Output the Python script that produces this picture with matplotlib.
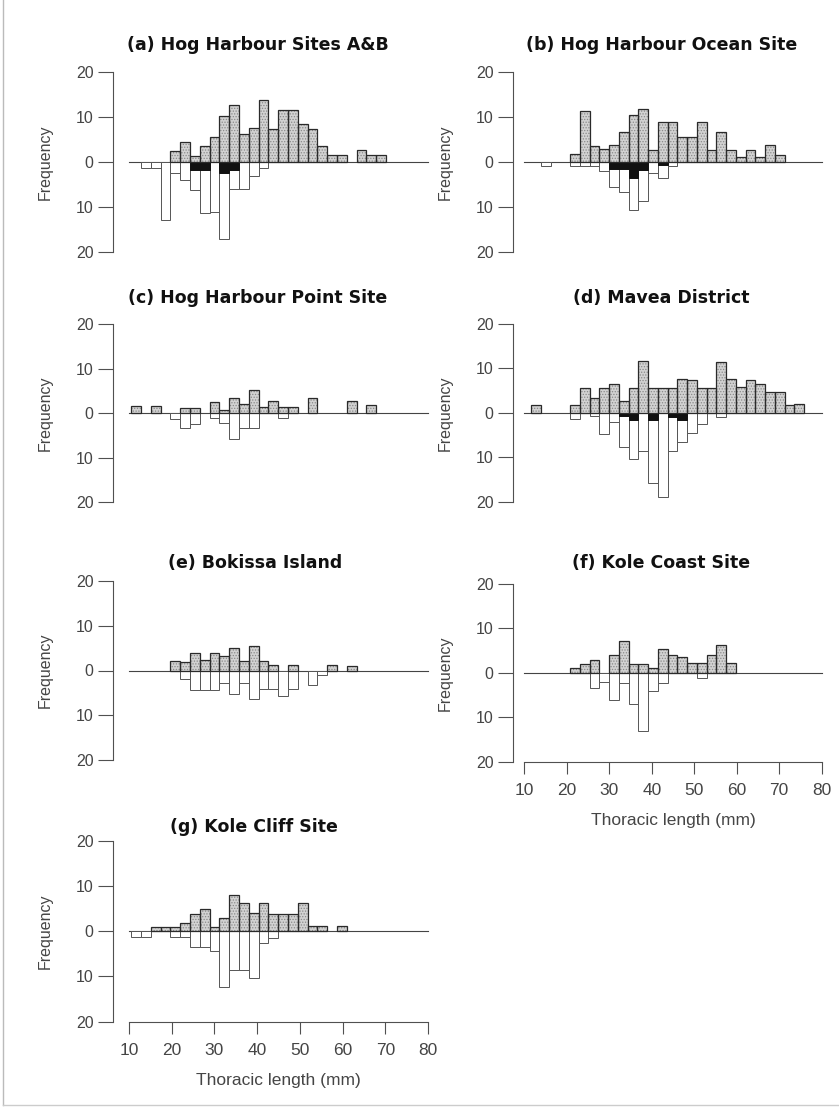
import matplotlib.pyplot as plt
from matplotlib.lines import Line2D
import numpy as np

# length classes (bin index) shared by every panel
n_bins = 28
bins = np.arange(n_bins)


def counts(pairs):
    # (bin index, frequency) pairs -> full array
    out = np.zeros(n_bins)
    for k, v in pairs:
        out[k] = v
    return out


titles = ['(a) Hog Harbour Sites A&B', '(b) Hog Harbour Ocean Site',
          '(c) Hog Harbour Point Site', '(d) Mavea District',
          '(e) Bokissa Island', '(f) Kole Coast Site', '(g) Kole Cliff Site']

# upper (stippled) bars
males_a = counts([(4, 2.4), (5, 4.4), (6, 1.2), (7, 3.5), (8, 5.6), (9, 10.1), (10, 12.6), (11, 6.2),
                  (12, 7.5), (13, 13.6), (14, 7.3), (15, 11.4), (16, 11.4), (17, 8.3), (18, 7.2),
                  (19, 3.5), (20, 1.6), (21, 1.6), (23, 2.6), (24, 1.6), (25, 1.6)])
males_b = counts([(4, 1.65), (5, 11.35), (6, 3.6), (7, 2.9), (8, 3.8), (9, 6.7), (10, 10.4), (11, 11.65),
                  (12, 2.6), (13, 8.7), (14, 8.7), (15, 5.5), (16, 5.5), (17, 8.8), (18, 2.7), (19, 6.6),
                  (20, 2.6), (21, 1.0), (22, 2.6), (23, 1.1), (24, 3.7), (25, 1.6)])
males_c = counts([(0, 1.5), (2, 1.5), (5, 1.2), (6, 1.2), (8, 2.5), (9, 0.75), (10, 3.5), (11, 2.0),
                  (12, 5.3), (13, 1.4), (14, 2.65), (15, 1.4), (16, 1.4), (18, 3.4), (22, 2.65), (24, 1.75)])
males_d = counts([(0, 1.7), (4, 1.7), (5, 5.7), (6, 3.4), (7, 5.5), (8, 6.6), (9, 2.7), (10, 5.6),
                  (11, 11.7), (12, 5.5), (13, 5.5), (14, 5.5), (15, 7.6), (16, 7.5), (17, 5.5), (18, 5.5),
                  (19, 11.5), (20, 7.7), (21, 5.8), (22, 7.5), (23, 6.5), (24, 4.8), (25, 4.8),
                  (26, 1.7), (27, 1.9)])
males_e = counts([(4, 2.1), (5, 1.9), (6, 3.9), (7, 2.3), (8, 4.0), (9, 3.2), (10, 5.0), (11, 2.1),
                  (12, 5.5), (13, 2.1), (14, 1.2), (16, 1.2), (20, 1.2), (22, 1.05)])
males_f = counts([(4, 1.05), (5, 2.1), (6, 3.0), (8, 4.1), (9, 7.2), (10, 2.1), (11, 2.1), (12, 1.2),
                  (13, 5.3), (14, 4.0), (15, 3.5), (16, 2.3), (17, 2.3), (18, 4.1), (19, 6.3), (20, 2.3)])
males_g = counts([(2, 0.9), (3, 0.9), (4, 0.9), (5, 1.8), (6, 3.7), (7, 5.0), (8, 0.8), (9, 2.9),
                  (10, 7.9), (11, 6.2), (12, 3.9), (13, 6.2), (14, 3.8), (15, 3.8), (16, 3.8),
                  (17, 6.2), (18, 1.05), (19, 1.05), (21, 1.05)])

# lower (white) bars
females_a = counts([(1, 1.3), (2, 1.3), (3, 12.8), (4, 2.4), (5, 4.1), (6, 6.2), (7, 11.2), (8, 11.1),
                    (9, 17.1), (10, 6.0), (11, 6.0), (12, 3.2), (13, 1.4)])
females_b = counts([(1, 1.0), (4, 1.05), (5, 1.05), (6, 1.05), (7, 1.95), (8, 5.7), (9, 6.8),
                    (10, 10.8), (11, 8.6), (12, 2.6), (13, 3.6), (14, 1.05)])
females_c = counts([(4, 1.4), (5, 3.3), (6, 2.4), (8, 1.1), (9, 2.3), (10, 5.8), (11, 3.3), (12, 3.3),
                    (15, 1.1)])
females_d = counts([(4, 1.4), (6, 0.8), (7, 4.7), (8, 2.1), (9, 7.7), (10, 10.3), (11, 8.6),
                    (12, 15.7), (13, 18.9), (14, 8.6), (15, 6.6), (16, 4.6), (17, 2.6), (19, 1.0)])
females_e = counts([(5, 2.0), (6, 4.3), (7, 4.3), (8, 4.3), (9, 2.9), (10, 5.3), (11, 2.9), (12, 6.4),
                    (13, 4.1), (14, 4.1), (15, 5.6), (16, 4.1), (18, 3.2), (19, 1.1)])
females_f = counts([(6, 3.4), (7, 2.1), (8, 6.2), (9, 2.2), (10, 6.9), (11, 13.2), (12, 4.1),
                    (13, 2.2), (17, 1.05)])
females_g = counts([(0, 1.2), (1, 1.2), (4, 1.3), (5, 1.3), (6, 3.6), (7, 3.6), (8, 4.4), (9, 12.3),
                    (10, 8.6), (11, 8.6), (12, 10.3), (13, 2.6), (14, 1.5)])

# black part of the lower bars
black_a = counts([(6, 1.8), (7, 1.8), (9, 2.4), (10, 1.8)])
black_b = counts([(8, 1.5), (9, 1.5), (10, 3.5), (11, 1.9), (13, 0.8)])
black_d = counts([(9, 0.8), (10, 1.7), (12, 1.7), (14, 1.0), (15, 1.7)])
none = np.zeros(n_bins)

males = [males_a, males_b, males_c, males_d, males_e, males_f, males_g]
females = [females_a, females_b, females_c, females_d, females_e, females_f, females_g]
blacks = [black_a, black_b, none, black_d, none, none, none]

# ---- layout (pixels of the 839x1107 picture) ----
W, H = 839, 1107
cols = {0: dict(ax_left=113, x10=129, x80=428, origin=10.5),
        1: dict(ax_left=513, x10=524.3, x80=821.7, origin=11.58)}
# column, top px (+20), bottom px (-20), title centre
panels = [(0, 71.5, 252.3, 258, 45), (1, 71.5, 252, 662, 45),
          (0, 324.2, 502, 258, 298), (1, 324, 501.7, 661, 298),
          (0, 581, 760, 255, 563), (1, 584, 761.7, 661, 563),
          (0, 840.7, 1021.5, 254, 827)]
bin_w = 2.295

plt.rcParams['hatch.linewidth'] = 0.6
fig = plt.figure(figsize=(W / 100, H / 100), dpi=100)
grey = '#505050'
font = ['Liberation Sans', 'DejaVu Sans']

for i, (c, top, bot, tx, ty) in enumerate(panels):
    col = cols[c]
    scale = (col['x80'] - col['x10']) / 70.0
    x_lo = 10 - (col['x10'] - col['ax_left']) / scale
    right_px = col['x10'] + 72 * scale
    ax = fig.add_axes([col['ax_left'] / W, 1 - bot / H, (right_px - col['ax_left']) / W, (bot - top) / H])
    ax.set_xlim(x_lo, 82)
    ax.set_ylim(-20, 20)

    x = col['origin'] + bins * bin_w
    up, lo, bk = males[i], females[i], blacks[i]

    ax.plot([10, 80], [0, 0], color='#444444', lw=0.8, zorder=1)
    m = lo > 0
    ax.bar(x[m], -lo[m], bin_w, align='edge', color='white', edgecolor='#555555', lw=0.7, zorder=2)
    m = bk > 0
    ax.bar(x[m], -bk[m], bin_w, align='edge', color='#111111', edgecolor='#111111', lw=0.7, zorder=3)
    m = up > 0
    ax.bar(x[m], up[m], bin_w, align='edge', color='#d2d2d2', edgecolor='none', zorder=3)
    ax.bar(x[m], up[m], bin_w, align='edge', fill=False, hatch='......', edgecolor='#8a8a8a', lw=0, zorder=4)
    ax.bar(x[m], up[m], bin_w, align='edge', fill=False, edgecolor='#2a2a2a', lw=0.9, zorder=5)

    for s in ['top', 'right']:
        ax.spines[s].set_visible(False)
    ax.spines['left'].set_color(grey)
    ax.spines['left'].set_linewidth(0.8)
    ax.set_yticks([-20, -10, 0, 10, 20])
    ax.set_yticklabels(['20', '10', '0', '10', '20'], fontfamily=font)
    ax.tick_params(axis='y', length=11, width=0.8, color=grey, labelsize=11.5, labelcolor='#454545', pad=3)

    if i in (5, 6):
        ax.spines['bottom'].set_bounds(10, 80)
        ax.spines['bottom'].set_color(grey)
        ax.spines['bottom'].set_linewidth(0.8)
        ax.set_xticks(range(10, 81, 10))
        ax.set_xticklabels([str(v) for v in range(10, 81, 10)], fontfamily=font)
        ax.tick_params(axis='x', length=8.5, width=0.8, color=grey, labelsize=12.5,
                       labelcolor='#454545', pad=7)
        fig.text((col['x10'] + col['x80']) / 2 / W, 1 - (bot + 59) / H, 'Thoracic length (mm)',
                 ha='center', va='center', fontsize=12.5, color='#454545', family=font)
    else:
        ax.spines['bottom'].set_visible(False)
        ax.set_xticks([])

    fig.text((col['ax_left'] - 68) / W, 1 - (top + bot) / 2 / H, 'Frequency', rotation=90,
             ha='center', va='center', fontsize=11.5, color='#454545', family=font)
    fig.text(tx / W, 1 - ty / H, titles[i], ha='center', va='center', fontsize=12.5,
             fontweight='bold', family='DejaVu Sans', color='#111111')

# thin border of the scanned page
fig.add_artist(Line2D([2.5 / W, 2.5 / W], [2 / H, 1], transform=fig.transFigure, color='#bbbbbb', lw=1))
fig.add_artist(Line2D([2.5 / W, 1], [2 / H, 2 / H], transform=fig.transFigure, color='#cccccc', lw=1))

fig.savefig('out.png', dpi=100, facecolor='white')
